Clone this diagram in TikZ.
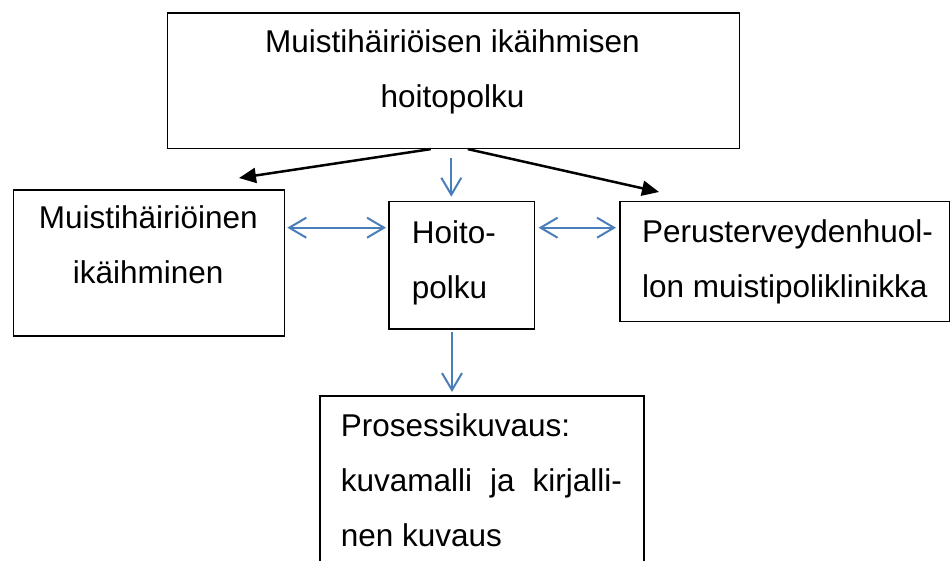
\documentclass[tikz,border=0pt]{standalone}
\usepackage{fontspec}
\setmainfont{Liberation Sans}
\usetikzlibrary{arrows.meta}
\definecolor{conblue}{RGB}{74,126,187}
\begin{document}
\begin{tikzpicture}[x=1pt,y=-1pt,
  box/.style={draw=black, line width=1.6pt, rectangle, inner sep=0pt, anchor=north west},
  txt/.style={font=\fontsize{31.5}{55}\selectfont, inner sep=0pt},
  txtl/.style={txt, align=left, anchor=base west},
  txtc/.style={txt, align=center, anchor=base},
  blk/.style={line width=2.5pt, -{Triangle[length=17pt,width=15pt]}},
  blu/.style={conblue, line width=2pt, -{Straight Barb[length=17pt,width=20pt]}},
  blud/.style={conblue, line width=2pt, {Straight Barb[length=17pt,width=20pt]}-{Straight Barb[length=17pt,width=20pt]}}]
\useasboundingbox (0,0) rectangle (951,560);
\clip (0,0) rectangle (951,560);
% boxes
\node[box, minimum width=572pt, minimum height=135.2pt] (top) at (166.5,12.3) {};
\node[box, minimum width=271pt, minimum height=145.7pt] (left) at (12.7,189.3) {};
\node[box, minimum width=145.4pt, minimum height=127.3pt] (ctr) at (388.3,200.7) {};
\node[box, minimum width=329.5pt, minimum height=120pt] (right) at (619,200.7) {};
\node[box, minimum width=324pt, minimum height=200pt] (bot) at (319,395) {};
% texts (anchored at the baseline of their last line)
\node[txtc] (toptxt) at (452.5,107.7) {Muistihäiriöisen ikäihmisen\\hoitopolku};
\node[txtc] (lefttxt) at (148.2,283) {Muistihäiriöinen\\ikäihminen};
\node[txtl] (ctrtxt) at (411.7,298) {Hoito-\\polku};
\node[txtl] (righttxt) at (642,297) {Perusterveydenhuol-\\lon muistipoliklinikka};
\node[txtl] (bottxt) at (340.7,546.7) {Prosessikuvaus:\\\makebox[281pt][s]{kuvamalli ja kirjalli-}\\nen kuvaus};
% free connector ends
\coordinate (lt) at (239,178);
\coordinate (rt) at (659,192);
\coordinate (ds) at (451.3,158);
\coordinate (de) at (451.3,196.7);
\coordinate (ya) at (0,227.7);
\coordinate (bs) at (452,332);
\coordinate (be) at (452,392);
% connectors
\draw[blk] ([xshift=-22.5pt]top.south) -- (lt);
\draw[blk] ([xshift=14.5pt]top.south) -- (rt);
\draw[blu] (ds) -- (de);
\draw[blud] ([xshift=2pt]left.east |- ya) -- ([xshift=-2.3pt]ctr.west |- ya);
\draw[blud] ([xshift=3.3pt]ctr.east |- ya) -- ([xshift=-3pt]right.west |- ya);
\draw[blu] (bs) -- (be);
\end{tikzpicture}
\end{document}
